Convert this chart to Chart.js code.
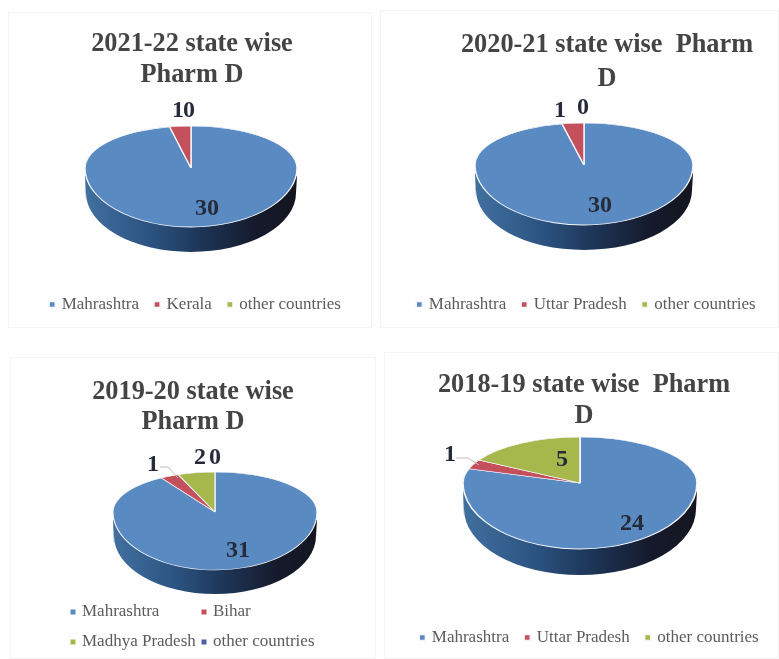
<!DOCTYPE html>
<html><head><meta charset="utf-8">
<script src="https://cdn.jsdelivr.net/npm/chart.js@4"></script>
<style>
html,body{margin:0;padding:0;background:#fefefe;width:779px;height:659px;overflow:hidden}
canvas{position:absolute;filter:blur(0.35px)}
.frame{position:absolute;border:1px solid #f4f4f4;box-sizing:border-box}
</style></head><body>
<script>
// ---- data ----
const titleA = ['2021-22 state wise', 'Pharm D'];
const categoriesA = ['Mahrashtra', 'Kerala', 'other countries'];
const valuesA = [30, 1, 0];

const titleB = ['2020-21 state wise  Pharm', 'D'];
const categoriesB = ['Mahrashtra', 'Uttar Pradesh', 'other countries'];
const valuesB = [30, 1, 0];

const titleC = ['2019-20 state wise', 'Pharm D'];
const categoriesC = ['Mahrashtra', 'Bihar', 'Madhya Pradesh', 'other countries'];
const valuesC = [31, 1, 2, 0];

const titleD = ['2018-19 state wise  Pharm', 'D'];
const categoriesD = ['Mahrashtra', 'Uttar Pradesh', 'other countries'];
const valuesD = [24, 1, 5];

const coloursThree = ['#5a8ac2', '#c4505c', '#a6b84c'];
const coloursFour = ['#5a8ac2', '#c4505c', '#a6b84c', '#4d5fa8'];

// ---- layout (page pixels) ----
const FONT = '"Liberation Serif", serif';
const panels = [
 {title:titleA, cats:categoriesA, vals:valuesA, cols:coloursThree,
  box:[8,12,364,316], titleX:192, titleY:44.5, titleGap:31, legendX:196, legendY:304.5,
  cx:191, apex:168, rx:106, up:42, down:59, depth:25,
  spots:[[207,209],[178,111],[189,111]], leaders:[]},
 {title:titleB, cats:categoriesB, vals:valuesB, cols:coloursThree,
  box:[380,10,399,318], titleX:607, titleY:45.5, titleGap:34, legendX:587, legendY:304.5,
  cx:584, apex:165, rx:109, up:42, down:60, depth:25,
  spots:[[600,206],[560,111],[583,108]], leaders:[]},
 {title:titleC, cats:categoriesC, vals:valuesC, cols:coloursFour,
  box:[10,357,366,302], titleX:193, titleY:392.5, titleGap:30, legendCols:[[73,612],[204,612],[73,642],[204,642]],
  cx:215, apex:512, rx:102, up:40, down:58, depth:24,
  spots:[[238,551],[153,465],[200,458],[215,458]], leaders:[[[160,467],[168,467],[178,478]]]},
 {title:titleD, cats:categoriesD, vals:valuesD, cols:coloursThree,
  box:[384,352,395,307], titleX:584, titleY:385.5, titleGap:31, legendX:590, legendY:637.5,
  cx:580, apex:483, rx:117, up:46, down:66, depth:26,
  spots:[[632,524],[450,455],[562,460]], leaders:[[[456,458],[468,458],[479,465]]]}
];
const TITLE_SIZE = 26.3, LEGEND_SIZE = 17, LABEL_SIZE = 24, LEGEND_PAD = 17;

const pie3d = {
  id:'pie3d',
  afterLayout(chart, args, o){
    const p = o.panel, ox = p.box[0], oy = p.box[1];
    const t = chart.titleBlock, w = t.right - t.left;
    t.left = p.titleX - ox - w/2; t.right = t.left + w;
    const lh = p.titleGap;
    t.top = p.titleY - oy - lh/2; t.bottom = t.top + lh*p.title.length;
    const l = chart.legend;
    if (l && p.legendX !== undefined){
      const lw = l.right - l.left;
      l.left = p.legendX - ox - lw/2; l.right = l.left + lw;
      l.top = p.legendY - oy - LEGEND_PAD - LEGEND_SIZE/2; l.bottom = l.top + 2*LEGEND_PAD + LEGEND_SIZE;
    }
  },
  beforeDatasetsDraw(chart, args, o){
    const p = o.panel, ctx = chart.ctx;
    const arcs = chart.getDatasetMeta(0).data;
    const cx = p.cx - p.box[0], ay = p.apex - p.box[1];
    // side wall
    ctx.save();
    const g = ctx.createLinearGradient(cx - p.rx, 0, cx + p.rx, 0);
    g.addColorStop(0, '#41709f'); g.addColorStop(0.3, '#2c5482');
    g.addColorStop(0.55, '#1d3557'); g.addColorStop(0.8, '#151a2c'); g.addColorStop(1, '#14151f');
    ctx.fillStyle = g;
    ctx.beginPath();
    ctx.moveTo(cx - p.rx, ay + 8);
    ctx.lineTo(cx - p.rx + 1, ay + p.depth + 8);
    ctx.ellipse(cx, ay + p.depth, p.rx - 1, p.down, 0, Math.PI, 0, true);
    ctx.lineTo(cx + p.rx, ay + 8);
    ctx.closePath(); ctx.fill();
    ctx.restore();
    // top face: library arcs, squashed above and below the apex
    [[0, ay, p.up], [ay, chart.height - ay, p.down]].forEach(([top, h, ry]) => {
      ctx.save();
      ctx.beginPath(); ctx.rect(0, top, chart.width, h); ctx.clip();
      arcs.forEach(a => {
        if (a.circumference === 0) return;
        ctx.save();
        ctx.translate(cx, ay);
        ctx.scale(p.rx / a.outerRadius, ry / a.outerRadius);
        ctx.translate(-a.x, -a.y);
        a.draw(ctx);
        ctx.restore();
      });
      ctx.restore();
    });
    return false;
  },
  beforeDatasetDraw(){ return false; },
  afterDraw(chart, args, o){
    const p = o.panel, ctx = chart.ctx, ox = p.box[0], oy = p.box[1];
    ctx.save();
    ctx.strokeStyle = '#c9b9b9'; ctx.lineWidth = 1;
    p.leaders.forEach(line => {
      ctx.beginPath();
      line.forEach(([x,y],i) => i ? ctx.lineTo(x-ox,y-oy) : ctx.moveTo(x-ox,y-oy));
      ctx.stroke();
    });
    ctx.font = 'bold ' + LABEL_SIZE + 'px ' + FONT;
    ctx.textAlign = 'center'; ctx.textBaseline = 'middle';
    ctx.fillStyle = '#262b3a';
    p.vals.forEach((v,i) => ctx.fillText(String(v), p.spots[i][0]-ox, p.spots[i][1]-oy));
    if (p.legendCols){
      ctx.textAlign = 'left';
      ctx.font = LEGEND_SIZE + 'px ' + FONT;
      p.cats.forEach((c,i) => {
        const [x,y] = p.legendCols[i];
        ctx.fillStyle = p.cols[i];
        ctx.fillRect(x-ox-2.5, y-oy-2.5, 5, 5);
        ctx.fillStyle = '#5c5c5c';
        ctx.fillText(c, x-ox+9, y-oy);
      });
    }
    ctx.restore();
  }
};

panels.forEach(p => {
  const f = document.createElement('div');
  f.className = 'frame';
  f.style.cssText = `left:${p.box[0]}px;top:${p.box[1]}px;width:${p.box[2]}px;height:${p.box[3]}px`;
  document.body.appendChild(f);
  const c = document.createElement('canvas');
  c.width = p.box[2]; c.height = p.box[3];
  c.style.cssText = `left:${p.box[0]}px;top:${p.box[1]}px;width:${p.box[2]}px;height:${p.box[3]}px`;
  document.body.appendChild(c);
  new Chart(c, {
    type:'pie',
    data:{labels:p.cats, datasets:[{data:p.vals, backgroundColor:p.cols, borderColor:'#f4f6fa', borderWidth:1.4}]},
    plugins:[pie3d],
    options:{
      responsive:false, animation:false, devicePixelRatio:1,
      plugins:{
        pie3d:{panel:p},
        tooltip:{enabled:false},
        title:{display:true, text:p.title, color:'#444444', padding:0,
          font:{family:FONT, size:TITLE_SIZE, weight:'bold', lineHeight:p.titleGap/TITLE_SIZE}},
        legend:{display:!p.legendCols, position:'bottom',
          labels:{usePointStyle:true, pointStyle:'rect', boxWidth:2, boxHeight:6, padding:LEGEND_PAD,
            color:'#5c5c5c', font:{family:FONT, size:LEGEND_SIZE}}}
      }
    }
  });
});
</script>
</body></html>
